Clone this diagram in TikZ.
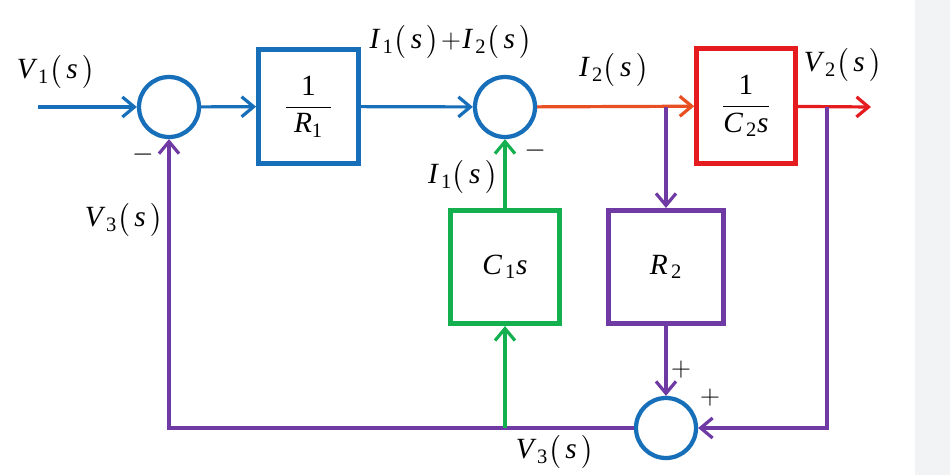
\documentclass[tikz,border=0pt]{standalone}
\usepackage{amsmath}
\usepackage{fontspec}
\setmainfont{Liberation Serif}
\usetikzlibrary{arrows.meta}
\definecolor{cblue}{RGB}{23,110,185}
\definecolor{cred}{RGB}{228,28,32}
\definecolor{corange}{RGB}{232,80,35}
\definecolor{cgreen}{RGB}{20,176,80}
\definecolor{cpurple}{RGB}{112,58,165}
\definecolor{cstrip}{RGB}{242,243,245}
\newcommand\sig[2]{$\textit{#1}_{\,\text{#2}}\bigl(\,\textit{s}\,\bigr)$}
\begin{document}
\begin{tikzpicture}[x=0.75pt,y=-0.75pt,
  font=\fontsize{22}{26}\selectfont,
  conn/.style={line width=2.4pt},
  arr/.style={conn,-{Straight Barb[length=9pt,width=15pt,line width=2.4pt]}},
  sumnode/.style={circle,draw=cblue,line width=3.2pt,minimum size=45pt,inner sep=0pt},
  blk/.style={draw=#1,line width=3.6pt,inner sep=0pt},
  lbl/.style={inner sep=1pt}]
\useasboundingbox (0,0) rectangle (950,475);
\fill[cstrip] (915,0) rectangle (950,475);

% blocks
\node[blk=cblue,minimum width=75pt,minimum height=86pt] (b1) at (308.5,106.5) {$\dfrac{\text{1}}{\;\textit{R}_{\text{1}}\;}$};
\node[blk=cred,minimum width=74pt,minimum height=86pt] (b3) at (746,106) {$\dfrac{\text{1}}{\textit{C}_{\,\text{2}}\textit{s}}$};
\node[blk=cgreen,minimum width=82pt,minimum height=85pt] (c1) at (505,267) {$\textit{C}_{\,\text{1}}\textit{s}$};
\node[blk=cpurple,minimum width=86pt,minimum height=85pt] (r2) at (666,267) {$\textit{R}_{\,\text{2}}$};

% summing junctions
\node[sumnode] (s1) at (169,107) {};
\node[sumnode] (s2) at (505,107) {};
\node[sumnode] (s3) at (666,428) {};

% coordinates
\coordinate (in) at (38,107);
\coordinate (out) at (871,107);
\coordinate (br1) at (r2.north |- s2);
\coordinate (br2) at (827,107);
\coordinate (br3) at (c1 |- s3);

% connectors
\draw[cblue,arr] (in) -- (s1);
\draw[cblue,arr] (s1) -- (b1);
\draw[cblue,arr] (b1) -- (s2);
\draw[corange,arr] (s2) -- (b3);
\draw[cred,arr] (b3) -- (out);
\draw[cpurple,arr] (br1) -- (r2);
\draw[cpurple,arr] (br2) |- (s3);
\draw[cpurple,arr] (r2) -- (s3);
\draw[cpurple,arr] (s3.west) -| (s1.south);
\draw[cgreen,arr] (br3) -- (c1);
\draw[cgreen,arr] (c1) -- (s2);

% labels
\node[lbl] (lv1) at (56,72) {\sig{V}{1}};
\node[lbl] (li12) at (451,42) {$\textit{I}_{\,\text{1}}\bigl(\,\textit{s}\,\bigr)\!+\!\textit{I}_{\,\text{2}}\bigl(\,\textit{s}\,\bigr)$};
\node[lbl] (li2) at (614,70) {\sig{I}{2}};
\node[lbl] (lv2) at (843,65) {\sig{V}{2}};
\node[lbl] (li1) at (463,177) {\sig{I}{1}};
\node[lbl] (lv3a) at (124,220) {\sig{V}{3}};
\node[lbl] (lv3b) at (555,452) {\sig{V}{3}};
\node[lbl] (m1) at (143,155) {$-$};
\node[lbl] (m2) at (535,151) {$-$};
\node[lbl] (p1) at (681,370) {$+$};
\node[lbl] (p2) at (710,398) {$+$};
\end{tikzpicture}
\end{document}
